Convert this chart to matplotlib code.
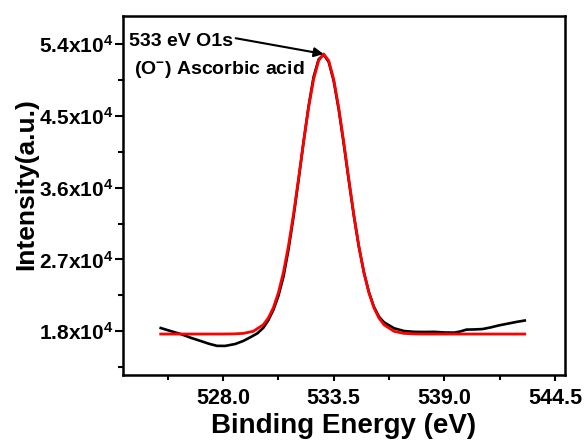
import matplotlib
matplotlib.use("Agg")
import matplotlib.pyplot as plt
from matplotlib.ticker import FixedLocator, FuncFormatter

plt.rcParams['font.family'] = ['Liberation Sans', 'DejaVu Sans']
plt.rcParams['font.weight'] = 'bold'
plt.rcParams['mathtext.fontset'] = 'custom'
plt.rcParams['mathtext.rm'] = 'Liberation Sans:bold'
plt.rcParams['mathtext.bf'] = 'Liberation Sans:bold'
plt.rcParams['mathtext.it'] = 'Liberation Sans:bold'
plt.rcParams['mathtext.default'] = 'bf'

# ---- data ----
exp_energy = [524.9, 525.4, 525.9, 526.4, 526.9, 527.3, 527.7, 528.1, 528.6, 529.0,
              529.35, 529.7, 530.0, 530.25, 530.5, 530.75, 531.0, 531.25, 531.5, 531.75,
              532.0, 532.25, 532.5, 532.75, 533.0, 533.25, 533.5, 533.75, 534.0, 534.25,
              534.5, 534.75, 535.0, 535.25, 535.5, 535.75, 536.0, 536.5, 537.0, 537.5,
              538.0, 538.5, 539.0, 539.5, 539.8, 540.1, 540.5, 540.9, 541.3, 541.7,
              542.2, 542.6, 543.0]
exp_intensity = [18380, 17990, 17620, 17150, 16740, 16400, 16140, 16130, 16370, 16750,
                 17210, 17700, 18400, 19350, 20650, 22400, 24800, 28200, 32300, 36900,
                 41700, 46200, 49900, 52100, 52700, 51800, 49400, 45800, 41500, 36900,
                 32500, 28600, 25400, 22900, 21050, 19800, 19100, 18350, 18000, 17900,
                 17880, 17900, 17820, 17800, 17950, 18180, 18200, 18250, 18450, 18700,
                 18950, 19150, 19320]

fit_energy = [524.9, 526.0, 527.0, 528.0, 528.5, 529.0, 529.5, 530.0, 530.25, 530.5,
              530.75, 531.0, 531.25, 531.5, 531.75, 532.0, 532.25, 532.5, 532.75, 533.0,
              533.25, 533.5, 533.75, 534.0, 534.25, 534.5, 534.75, 535.0, 535.25, 535.5,
              535.75, 536.0, 536.5, 537.0, 537.5, 538.0, 539.0, 540.0, 541.0, 542.0, 543.0]
fit_intensity = [17620, 17620, 17620, 17622, 17638, 17703, 17963, 18791, 19635, 20929,
                 22806, 25369, 28667, 32637, 37095, 41712, 46043, 49609, 51957, 52780,
                 51957, 49609, 46043, 41712, 37095, 32637, 28667, 25369, 22806, 20929,
                 19635, 18791, 17963, 17703, 17638, 17622, 17620, 17620, 17620, 17620, 17620]

x_major = [528.0, 533.5, 539.0, 544.5]
x_minor = [525.25, 530.75, 536.25, 541.75]
y_major = [18000, 27000, 36000, 45000, 54000]
y_minor = [13500, 22500, 31500, 40500, 49500]
y_labels = [r"1.8x10$^{4}$", r"2.7x10$^{4}$", r"3.6x10$^{4}$", r"4.5x10$^{4}$", r"5.4x10$^{4}$"]

peak_label = "533 eV O1s"
peak_sub = r"(O$^{-}$) Ascorbic acid"
peak_pos = (533.0, 52780)

fig = plt.figure(figsize=(5.87, 4.45), dpi=100)
ax = fig.add_axes([0.2087, 0.1573, 0.7538, 0.8067])

ax.plot(exp_energy, exp_intensity, color='black', lw=1.9, solid_joinstyle='round')
ax.plot(fit_energy, fit_intensity, color='red', lw=2.0, solid_joinstyle='round')

ax.set_xlim(523.0, 545.0)
ax.set_ylim(12480, 57550)

ax.xaxis.set_major_locator(FixedLocator(x_major))
ax.xaxis.set_minor_locator(FixedLocator(x_minor))
ax.xaxis.set_major_formatter(FuncFormatter(lambda v, p: f"{v:.1f}"))
ax.yaxis.set_major_locator(FixedLocator(y_major))
ax.yaxis.set_minor_locator(FixedLocator(y_minor))
ax.set_yticklabels(y_labels)

for s in ax.spines.values():
    s.set_linewidth(1.8)
ax.tick_params(axis='x', which='major', direction='out', length=4.5, width=1.5,
               labelsize=15.5, pad=5)
ax.tick_params(axis='y', which='major', direction='out', length=6, width=1.5,
               labelsize=15, pad=1)
ax.tick_params(which='minor', direction='out', length=3.5, width=1.5)
for lab in ax.get_xticklabels() + ax.get_yticklabels():
    lab.set_fontweight('bold')

ax.set_xlabel("Binding Energy (eV)", fontsize=20, fontweight='bold', labelpad=3)
ax.set_ylabel("Intensity(a.u.)", fontsize=19, fontweight='bold')
ax.yaxis.set_label_coords(-0.191, 0.532)

ax.annotate(peak_label, xy=peak_pos, xytext=(523.32, 54290),
            fontsize=14, fontweight='bold', va='center', ha='left',
            arrowprops=dict(arrowstyle='-|>', color='black', lw=1.5,
                            mutation_scale=14, shrinkA=0, shrinkB=0,
                            relpos=(1.0, 0.75)))
ax.text(523.57, 50775, peak_sub, fontsize=14, fontweight='bold', va='center', ha='left')

fig.savefig("out.png", dpi=100)
